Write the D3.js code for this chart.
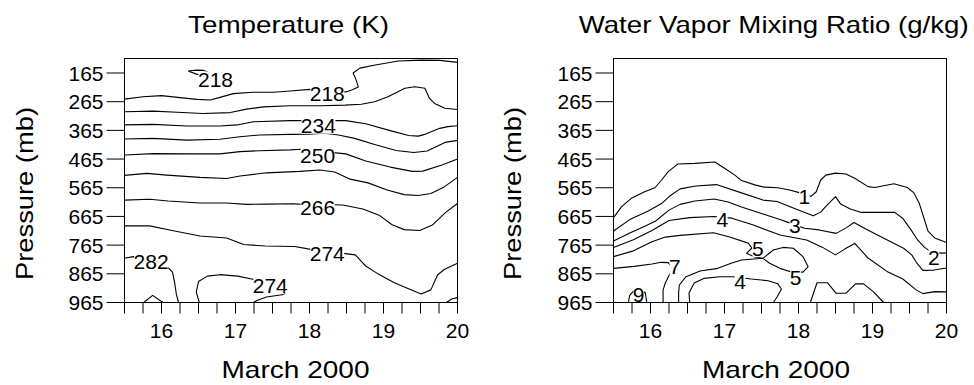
<!DOCTYPE html>
<html>
<head>
<meta charset="utf-8">
<script src="https://cdn.jsdelivr.net/npm/d3@7"></script>
<style>
  body { margin: 0; background: #fff; }
  svg { display: block; }
</style>
</head>
<body>
<svg id="chart" width="974" height="385"></svg>
<script>
// Time axis (days of March 2000) and pressure axis (mb)
const dayTicks = [15.5, 15.75, 16, 16.25, 16.5, 16.75, 17, 17.25, 17.5, 17.75,
                  18, 18.25, 18.5, 18.75, 19, 19.25, 19.5, 19.75, 20];
const dayLabels = [16, 17, 18, 19, 20];
const pressureTicks = [165, 265, 365, 465, 565, 665, 765, 865, 965];
const dayDomain = [15.5, 20];
const pressureDomain = [114.5, 965];

// Temperature contours (K): [day, pressure mb]
const t218a = [[15.5,256],[15.75,248],[16.0,244],[16.25,251],[16.48,257],[16.66,259],[16.79,250],[16.97,237],[17.24,232],[17.51,232],[17.74,228],[18.0,222],[18.24,226],[18.49,231],[18.57,224],[18.66,214],[18.63,189],[18.59,165],[18.68,148],[18.89,137],[19.2,123],[19.51,120],[19.76,121],[20.0,128]];
const t218b = [[16.36,158],[16.47,155],[16.57,156],[16.66,165],[16.57,174],[16.47,169],[16.36,158]];
const t226 = [[15.5,300],[15.89,298],[16.21,302],[16.56,306],[16.93,303],[17.15,291],[17.38,283],[17.74,279],[18.16,279],[18.48,277],[18.7,274],[18.88,265],[19.06,248],[19.29,218],[19.42,213],[19.56,218],[19.62,253],[19.69,271],[19.83,288],[20.0,292]];
const t234 = [[15.5,346],[15.89,344],[16.34,350],[16.79,350],[17.02,346],[17.24,335],[17.74,331],[17.89,331],[18.49,331],[18.76,342],[19.09,366],[19.34,383],[19.47,385],[19.57,378],[19.76,358],[19.87,352],[20.0,349]];
const t242 = [[15.5,395],[15.89,393],[16.34,399],[16.79,396],[17.06,387],[17.33,381],[17.74,379],[17.98,378],[18.21,375],[18.39,381],[18.61,393],[18.88,414],[19.17,435],[19.41,442],[19.59,437],[19.83,407],[20.0,400]];
const t250 = [[15.5,451],[15.89,446],[16.34,447],[16.79,447],[17.06,439],[17.33,436],[17.74,433],[17.89,431],[18.49,447],[18.76,472],[19.09,493],[19.39,508],[19.53,507],[19.79,486],[20.0,465]];
const t258 = [[15.5,522],[15.8,515],[16.07,521],[16.52,529],[16.88,533],[17.06,524],[17.42,513],[17.87,508],[18.14,503],[18.34,510],[18.55,535],[18.79,548],[19.05,573],[19.28,589],[19.47,592],[19.64,585],[19.82,562],[20.0,529]];
const t266 = [[15.5,608],[15.84,605],[16.09,611],[16.52,618],[16.88,618],[17.15,623],[17.44,622],[17.78,621],[17.86,622],[18.45,625],[18.72,639],[18.95,662],[19.11,693],[19.28,711],[19.49,714],[19.66,695],[19.84,651],[20.0,620]];
const t274a = [[15.5,698],[15.84,698],[16.11,712],[16.52,733],[16.88,740],[17.11,763],[17.4,768],[17.8,770],[17.98,778],[18.62,799],[18.76,838],[18.93,866],[19.14,895],[19.33,916],[19.51,935],[19.64,921],[19.73,869],[19.82,850],[20.0,828]];
const t274b = [[16.51,965],[16.47,928],[16.5,892],[16.62,873],[16.79,868],[17.03,873],[17.22,883],[17.47,904],[17.69,927],[17.65,937],[17.42,946],[17.29,958],[17.24,965]];
const t282a = [[15.5,811],[15.62,805],[15.87,824],[16.1,846],[16.15,860],[16.18,900],[16.2,935],[16.23,965]];
const t282b = [[19.85,965],[19.92,953],[20.0,948]];
const t290 = [[15.76,965],[15.88,940],[16.02,965]];
const tempLines = [t218a, t218b, t226, t234, t242, t250, t258, t266, t274a, t274b, t282a, t282b, t290];
// Contour labels: [level, day, pressure]
const tempLabels = [[218,16.73,189],[218,18.24,235],[234,18.12,347],[250,18.11,454],[266,18.11,632],[274,18.24,794],[282,15.86,823],[274,17.47,904]];

// Water vapor mixing ratio contours (g/kg): [day, pressure mb]
const q1 = [[15.5,669],[15.61,631],[15.74,602],[15.92,579],[16.06,565],[16.15,538],[16.24,509],[16.37,482],[16.6,480],[16.87,475],[17.0,497],[17.14,521],[17.23,540],[17.41,555],[17.54,563],[17.72,565],[17.88,573],[18.01,582],[18.17,595],[18.24,579],[18.3,538],[18.37,521],[18.5,514],[18.64,517],[18.76,532],[18.94,561],[19.03,564],[19.29,551],[19.47,564],[19.56,583],[19.63,618],[19.69,667],[19.75,716],[19.84,740],[20.0,756]];
const q2 = [[15.5,716],[15.72,676],[15.97,646],[16.16,618],[16.26,594],[16.4,569],[16.61,559],[16.89,554],[17.22,582],[17.52,608],[17.71,613],[17.98,641],[18.2,663],[18.3,650],[18.37,630],[18.5,596],[18.57,622],[18.7,639],[18.85,651],[19.05,651],[19.3,651],[19.41,672],[19.52,712],[19.61,747],[19.7,772],[19.77,785],[19.93,793],[20.0,792]];
const q3 = [[15.5,751],[15.72,723],[15.93,698],[16.07,681],[16.25,643],[16.4,623],[16.6,611],[16.86,604],[17.05,615],[17.22,631],[17.51,656],[17.75,676],[17.84,684],[18.08,706],[18.28,712],[18.51,724],[18.65,704],[18.75,686],[18.91,709],[19.2,747],[19.42,776],[19.53,799],[19.6,828],[19.68,853],[19.83,852],[20.0,845]];
const q4a = [[15.5,773],[15.76,747],[16.02,714],[16.25,679],[16.53,669],[16.86,665],[17.1,671],[17.39,695],[17.75,730],[18.11,747],[18.32,772],[18.5,799],[18.63,778],[18.76,759],[18.94,810],[19.21,859],[19.41,883],[19.59,921],[19.68,934],[19.84,927],[20.0,928]];
const q4b = [[16.53,965],[16.52,932],[16.59,897],[16.72,881],[16.94,875],[17.11,875],[17.36,883],[17.59,889],[17.72,900],[17.77,918],[17.71,946],[17.66,965]];
const q5a = [[15.5,805],[15.77,785],[16.02,753],[16.2,737],[16.4,731],[16.85,722],[17.07,737],[17.32,758],[17.37,775],[17.3,793],[17.39,805],[17.52,811],[17.61,828],[17.75,846],[17.89,858],[18.06,859],[18.13,840],[18.06,805],[17.93,776],[17.79,773],[17.66,782],[17.52,811],[17.23,817],[17.09,828],[16.91,846],[16.67,855],[16.48,875],[16.39,904],[16.38,932],[16.38,965]];
const q5b = [[18.16,965],[18.25,896],[18.39,896],[18.51,933],[18.64,933],[18.77,900],[18.88,900],[19.01,927],[19.15,965]];
const q7 = [[15.5,846],[15.78,839],[16.02,831],[16.14,825],[16.24,826],[16.3,845],[16.25,871],[16.2,897],[16.17,921],[16.17,965]];
const q9 = [[15.7,965],[15.72,939],[15.78,923],[15.86,918],[15.93,932],[15.95,965]];
const vaporLines = [q1, q2, q3, q4a, q4b, q5a, q5b, q7, q9];
const vaporLabels = [[1,18.08,596],[2,19.83,808],[3,17.95,695],[4,16.97,677],[5,17.45,777],[5,17.96,876],[7,16.33,841],[4,17.21,892],[9,15.84,936]];

const FONT = '"Liberation Sans", Arial, Helvetica, sans-serif';
const svg = d3.select("#chart");

const panels = [
  { title: "Temperature (K)", titleX: 188, titleLen: 201, x0: 124.5, x1: 457.5,
    yTitleX: 33, xTitleX: 295.5, lines: tempLines, labels: tempLabels, id: "t" },
  { title: "Water Vapor Mixing Ratio (g/kg)", titleX: 578.7, titleLen: 390, x0: 613.5, x1: 946.5,
    yTitleX: 520.5, xTitleX: 776, lines: vaporLines, labels: vaporLabels, id: "q" }
];

const plotTop = 58.5, plotBottom = 302.5, fs = 21;

panels.forEach(p => {
  const x = d3.scaleLinear().domain(dayDomain).range([p.x0, p.x1]);
  const y = d3.scaleLinear().domain(pressureDomain).range([plotTop, plotBottom]);
  const g = svg.append("g");

  g.append("clipPath").attr("id", "clip-" + p.id)
    .append("rect").attr("x", p.x0).attr("y", plotTop)
    .attr("width", p.x1 - p.x0).attr("height", plotBottom - plotTop);

  const line = d3.line().x(d => x(d[0])).y(d => y(d[1]));
  g.append("g").attr("clip-path", `url(#clip-${p.id})`)
    .selectAll("path").data(p.lines).join("path")
    .attr("d", line).attr("fill", "none")
    .attr("stroke", "#000").attr("stroke-width", 1.1)
    .attr("stroke-linejoin", "round");

  // contour labels with a knockout behind the digits
  const lab = g.append("g").selectAll("g").data(p.labels).join("g")
    .attr("transform", d => `translate(${x(d[1])},${y(d[2])})`);
  lab.append("rect")
    .attr("x", d => -String(d[0]).length * fs * 0.556 / 2 + 0.5)
    .attr("y", -8.5)
    .attr("width", d => String(d[0]).length * fs * 0.556 - 1)
    .attr("height", 17)
    .attr("fill", "#fff");
  lab.append("text")
    .attr("text-anchor", "middle").attr("y", fs * 0.36)
    .attr("font-family", FONT).attr("font-size", fs)
    .text(d => d[0]);

  // axes
  const xAxis = d3.axisBottom(x).tickValues(dayTicks).tickSize(11).offset(0)
    .tickFormat(d => dayLabels.includes(d) ? String(d) : "");
  const gx = g.append("g").attr("transform", `translate(0,${plotBottom})`).call(xAxis);
  gx.select(".domain").remove();
  gx.selectAll("line").attr("stroke-width", 1);
  gx.selectAll("text").attr("dy", null).attr("y", 35.5)
    .attr("font-family", FONT).attr("font-size", fs).attr("fill", "#000");

  const yAxis = d3.axisLeft(y).tickValues(pressureTicks).tickSize(18).tickPadding(3).offset(0);
  const gy = g.append("g").attr("transform", `translate(${p.x0},0)`).call(yAxis);
  gy.select(".domain").remove();
  gy.selectAll("text").attr("dy", "0.36em")
    .attr("font-family", FONT).attr("font-size", fs).attr("fill", "#000");

  // frame
  g.append("rect").attr("x", p.x0).attr("y", plotTop)
    .attr("width", p.x1 - p.x0).attr("height", plotBottom - plotTop)
    .attr("fill", "none").attr("stroke", "#000").attr("stroke-width", 1);

  // titles
  g.append("text").attr("x", p.titleX).attr("y", 32.5)
    .attr("font-family", FONT).attr("font-size", 24)
    .attr("textLength", p.titleLen).attr("lengthAdjust", "spacingAndGlyphs")
    .text(p.title);
  g.append("text").attr("x", p.xTitleX).attr("y", 377.5)
    .attr("text-anchor", "middle")
    .attr("font-family", FONT).attr("font-size", 24)
    .attr("textLength", 148).attr("lengthAdjust", "spacingAndGlyphs")
    .text("March 2000");
  g.append("text")
    .attr("transform", `translate(${p.yTitleX},193.5) rotate(-90)`)
    .attr("text-anchor", "middle")
    .attr("font-family", FONT).attr("font-size", 24)
    .attr("textLength", 173).attr("lengthAdjust", "spacingAndGlyphs")
    .text("Pressure (mb)");
});
</script>
</body>
</html>
